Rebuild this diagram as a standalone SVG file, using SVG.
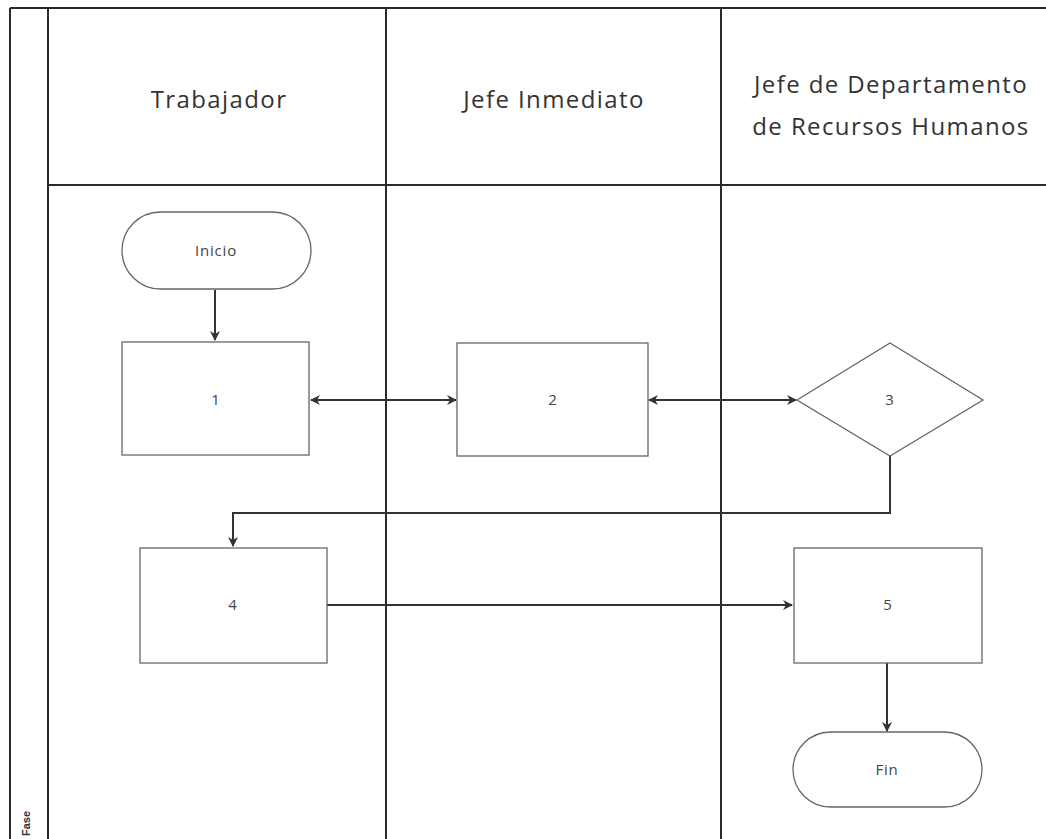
<svg xmlns="http://www.w3.org/2000/svg" width="1046" height="839" viewBox="0 0 1046 839">
<style>
.grid{stroke:#2a2a2a;stroke-width:2;fill:none}
.shape{fill:#fff;stroke:#666;stroke-width:1.3}
.hdr{font-family:"Open Sans","Liberation Sans",sans-serif;font-size:24px;letter-spacing:1.4px;fill:#333;text-anchor:middle}
.lbl{font-family:"Open Sans","Liberation Sans",sans-serif;font-size:15px;letter-spacing:0.8px;fill:#444;text-anchor:middle}
.conn{stroke:#333;stroke-width:2;fill:none}
</style>
<defs>
<marker id="ah" markerWidth="10" markerHeight="10" refX="9" refY="5" orient="auto-start-reverse" markerUnits="userSpaceOnUse">
<path d="M0,0 L10,5 L0,10 L3,5 Z" fill="#333"/>
</marker>
</defs>
<rect width="1046" height="839" fill="#fff"/>
<g id="pool">
<line class="grid" x1="10" y1="8" x2="1046" y2="8"/>
<line class="grid" x1="10" y1="8" x2="10" y2="839"/>
<line class="grid" x1="48" y1="8" x2="48" y2="839"/>
<line class="grid" x1="386" y1="8" x2="386" y2="839"/>
<line class="grid" x1="721" y1="8" x2="721" y2="839"/>
<line class="grid" x1="48" y1="185" x2="1046" y2="185"/>
<text class="hdr" x="219" y="108">Trabajador</text>
<text class="hdr" x="554" y="108">Jefe Inmediato</text>
<text class="hdr" x="891" y="93">Jefe de Departamento</text>
<text class="hdr" x="891" y="135">de Recursos Humanos</text>
<text transform="translate(30,836) rotate(-90)" font-family="Liberation Sans, sans-serif" font-size="11" font-weight="bold" fill="#333">Fase</text>
</g>
<g id="connectors">
<line class="conn" x1="215" y1="290" x2="215" y2="340" marker-end="url(#ah)"/>
<line class="conn" x1="311" y1="400" x2="456" y2="400" marker-start="url(#ah)" marker-end="url(#ah)"/>
<line class="conn" x1="649" y1="400" x2="796" y2="400" marker-start="url(#ah)" marker-end="url(#ah)"/>
<polyline class="conn" points="890,456 890,513 233,513 233,546" marker-end="url(#ah)"/>
<line class="conn" x1="327" y1="605" x2="792" y2="605" marker-end="url(#ah)"/>
<line class="conn" x1="887" y1="663" x2="887" y2="731" marker-end="url(#ah)"/>
</g>
<g id="inicio">
<rect class="shape" x="122" y="212" width="189" height="77" rx="38.5"/>
<text class="lbl" x="216" y="256">Inicio</text>
</g>
<g id="n1">
<rect class="shape" x="122" y="342" width="187" height="113"/>
<text class="lbl" x="216" y="405">1</text>
</g>
<g id="n2">
<rect class="shape" x="457" y="343" width="191" height="113"/>
<text class="lbl" x="553" y="405">2</text>
</g>
<g id="n3">
<polygon class="shape" points="797,400 890,343 983,400 890,456"/>
<text class="lbl" x="890" y="405">3</text>
</g>
<g id="n4">
<rect class="shape" x="140" y="548" width="187" height="115"/>
<text class="lbl" x="233" y="610">4</text>
</g>
<g id="n5">
<rect class="shape" x="794" y="548" width="188" height="115"/>
<text class="lbl" x="888" y="610">5</text>
</g>
<g id="fin">
<rect class="shape" x="793" y="732" width="189" height="75" rx="37.5"/>
<text class="lbl" x="887" y="775">Fin</text>
</g>
</svg>
